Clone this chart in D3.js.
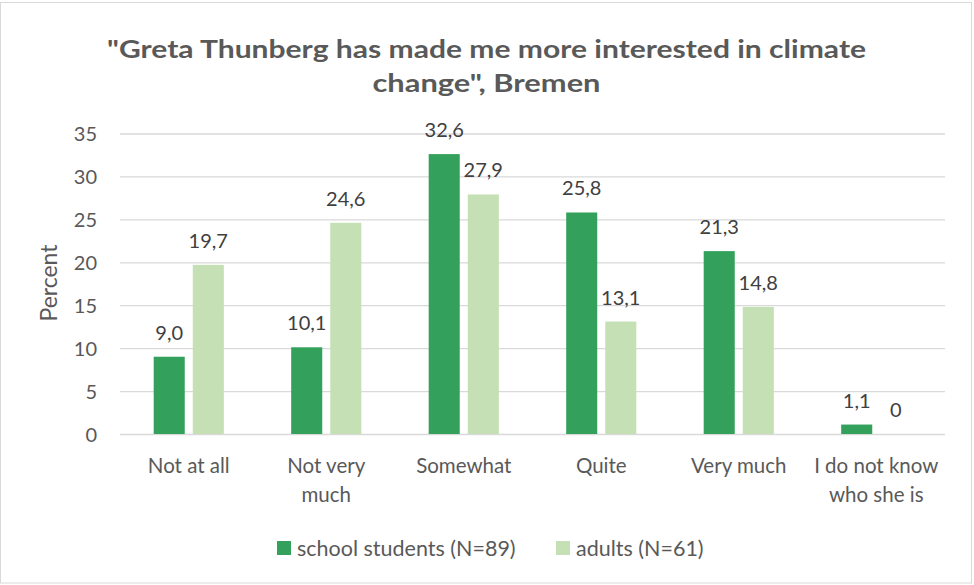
<!DOCTYPE html>
<html>
<head>
<meta charset="utf-8">
<script src="https://cdn.jsdelivr.net/npm/d3@7/dist/d3.min.js"></script>
<style>
  html, body { margin: 0; padding: 0; background: #fff; }
  svg { display: block; }
  text { font-family: Lato, "Open Sans", "Liberation Sans", sans-serif; }
</style>
</head>
<body>
<svg id="chart" width="974" height="585"></svg>
<script>
// Survey answers (percent) by group
const categories = ["Not at all", "Not very much", "Somewhat", "Quite", "Very much", "I do not know who she is"];
const categoryLines = [["Not at all"], ["Not very", "much"], ["Somewhat"], ["Quite"], ["Very much"], ["I do not know", "who she is"]];
const seriesNames = ["school students (N=89)", "adults (N=61)"];
const schoolStudents = [9.0, 10.1, 32.6, 25.8, 21.3, 1.1];
const adults = [19.7, 24.6, 27.9, 13.1, 14.8, 0];
const yTicks = [0, 5, 10, 15, 20, 25, 30, 35];
const titleLines = ["\"Greta Thunberg has made me more interested in climate", "change\", Bremen"];
const colors = ["#33a05b", "#c5e0b4"];

const svg = d3.select("#chart");
const plot = { left: 120, right: 945, top: 133.5, bottom: 434 };

// outer frame
svg.append("rect")
  .attr("x", 0.5).attr("y", 2.5).attr("width", 971).attr("height", 580.5)
  .attr("fill", "#fff").attr("stroke", "#d9d9d9").attr("stroke-width", 1);

// title
svg.append("g").selectAll("text").data(titleLines).join("text")
  .attr("x", 486.5)
  .attr("y", (d, i) => 58 + i * 34)
  .attr("text-anchor", "middle")
  .attr("font-size", 25)
  .attr("font-weight", "bold")
  .attr("fill", "#595959")
  .attr("textLength", (d, i) => i === 0 ? 759 : 228)
  .attr("lengthAdjust", "spacingAndGlyphs")
  .text(d => d);

const y = d3.scaleLinear().domain([0, 35]).range([plot.bottom, plot.top]);
const x0 = d3.scaleBand().domain(categories).range([plot.left, plot.right])
  .paddingInner(0.49).paddingOuter(0.245);
const x1 = d3.scaleBand().domain(seriesNames).range([0, x0.bandwidth()])
  .paddingInner(0.205).paddingOuter(0);

// gridlines and value axis labels
const yAxis = d3.axisLeft(y).tickValues(yTicks).tickSize(-(plot.right - plot.left)).tickPadding(23);
const gy = svg.append("g").attr("transform", `translate(${plot.left},0)`).call(yAxis);
gy.select(".domain").remove();
gy.selectAll(".tick line").attr("stroke", "#d9d9d9").attr("stroke-width", 1.3);
gy.selectAll(".tick text")
  .attr("fill", "#595959").attr("font-size", 20)
  .attr("font-family", "Lato, 'Open Sans', sans-serif")
  .attr("dy", "0.36em");

// y axis title
svg.append("text")
  .attr("transform", `translate(57,283) rotate(-90)`)
  .attr("text-anchor", "middle")
  .attr("font-size", 23)
  .attr("fill", "#595959")
  .text("Percent");

// bars
const rows = categories.map((c, i) => ({ cat: c, values: [schoolStudents[i], adults[i]] }));
const groups = svg.append("g").selectAll("g").data(rows).join("g")
  .attr("transform", d => `translate(${x0(d.cat)},0)`);

groups.selectAll("rect")
  .data(d => d.values.map((v, k) => ({ v, k })))
  .join("rect")
  .attr("x", d => x1(seriesNames[d.k]))
  .attr("y", d => y(d.v))
  .attr("width", x1.bandwidth())
  .attr("height", d => y(0) - y(d.v))
  .attr("fill", d => colors[d.k]);

// value labels
const fmt = v => v === 0 ? "0" : d3.format(".1f")(v).replace(".", ",");
groups.selectAll("text.val")
  .data(d => d.values.map((v, k) => ({ v, k })))
  .join("text")
  .attr("class", "val")
  .attr("x", d => x1(seriesNames[d.k]) + x1.bandwidth() / 2)
  .attr("y", d => y(d.v) - 17)
  .attr("text-anchor", "middle")
  .attr("font-size", 20)
  .attr("fill", "#404040")
  .text(d => fmt(d.v));

// category labels
const catG = svg.append("g").selectAll("text").data(categories).join("text")
  .attr("x", d => x0(d) + x0.bandwidth() / 2)
  .attr("y", 473)
  .attr("text-anchor", "middle")
  .attr("font-size", 20.5)
  .attr("fill", "#595959");
catG.selectAll("tspan")
  .data((d, i) => categoryLines[i])
  .join("tspan")
  .attr("x", function () { return d3.select(this.parentNode).attr("x"); })
  .attr("dy", (d, i) => i === 0 ? 0 : 29)
  .text(d => d);

// legend
const legendItems = [
  { name: seriesNames[0], color: colors[0], x: 277 },
  { name: seriesNames[1], color: colors[1], x: 556 }
];
const lg = svg.append("g").selectAll("g").data(legendItems).join("g")
  .attr("transform", d => `translate(${d.x},0)`);
lg.append("rect").attr("x", 0).attr("y", 541).attr("width", 14).attr("height", 14)
  .attr("fill", d => d.color);
lg.append("text").attr("x", 20).attr("y", 555.5)
  .attr("font-size", 21.5).attr("fill", "#595959")
  .text(d => d.name);
</script>
</body>
</html>
